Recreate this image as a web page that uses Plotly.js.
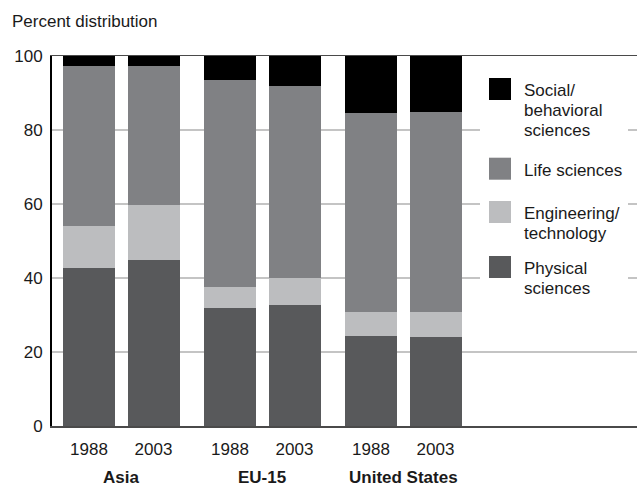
<!DOCTYPE html>
<html>
<head>
<meta charset="utf-8">
<script src="https://cdn.plot.ly/plotly-3.0.1.min.js"></script>
<style>html,body{margin:0;padding:0;background:#fff;}#chart{width:637px;height:486px;}</style>
</head>
<body>
<div id="chart"></div>
<script>
// ---- data ----
const regions = ['Asia', 'EU-15', 'United States'];
const years = ['1988', '2003'];
const seriesNames = ['Physical sciences', 'Engineering/technology', 'Life sciences', 'Social/behavioral sciences'];
const legendLabels = ['Physical<br>sciences', 'Engineering/<br>technology', 'Life sciences', 'Social/<br>behavioral<br>sciences'];
// order: Asia 1988, Asia 2003, EU-15 1988, EU-15 2003, US 1988, US 2003
const physical    = [42.6, 44.8, 31.8, 32.6, 24.3, 24.0];
const engineering = [11.4, 14.8, 5.7, 7.3, 6.5, 6.8];
const life        = [43.4, 37.8, 56.1, 52.1, 53.7, 54.2];
const social      = [2.6, 2.6, 6.4, 8.0, 15.5, 15.0];
const yTicks = [0, 20, 40, 60, 80, 100];

// ---- layout constants ----
const W = 637, H = 486;
const M = {l: 52, r: 0, t: 56, b: 60};
const X0 = 89, GROUP_STEP = 141, YEAR_STEP = 64.5, BAR_W = 52;
const colors = ['#58595b', '#bcbdbf', '#808184', '#000000'];
const FONT = 'Liberation Sans, Arial, sans-serif';
const TXT = '#1a1a1a';

const xpos = [], xlab = [];
regions.forEach((r, gi) => years.forEach((y, yi) => {
  xpos.push(X0 + gi * GROUP_STEP + yi * YEAR_STEP);
  xlab.push(y);
}));

const seriesVals = [physical, engineering, life, social];
const traces = seriesVals.map((vals, i) => ({
  type: 'bar', name: seriesNames[i], x: xpos, y: vals, width: BAR_W,
  marker: {color: colors[i], line: {width: 0}}, showlegend: false, hoverinfo: 'name+y'
}));

const pw = W - M.l - M.r, ph = H - M.t - M.b;
const px2paperX = p => (p - M.l) / pw;
const px2paperY = p => (H - M.b - p) / ph;

const shapes = [];
const annotations = [];
// legend background (white, interrupts gridlines)
shapes.push({type: 'rect', xref: 'paper', yref: 'paper', layer: 'above',
  x0: px2paperX(480), x1: px2paperX(628), y0: px2paperY(302), y1: px2paperY(66),
  fillcolor: '#ffffff', line: {width: 0}});
// custom legend, top item = last series
const legendY = [267, 212, 168.7, 89];
const SW = 22, SWX = 489, TX = 522, LINE_H = 19.8;
for (let i = 0; i < seriesNames.length; i++) {
  const cy = legendY[i];
  shapes.push({type: 'rect', xref: 'paper', yref: 'paper', layer: 'above',
    x0: px2paperX(SWX), x1: px2paperX(SWX + SW), y0: px2paperY(cy + SW / 2), y1: px2paperY(cy - SW / 2),
    fillcolor: colors[i], line: {width: 0}});
  legendLabels[i].split('<br>').forEach((line, li) => {
    annotations.push({xref: 'paper', yref: 'paper', x: px2paperX(TX), y: px2paperY(cy + 1.5 + li * LINE_H),
      xanchor: 'left', yanchor: 'middle', showarrow: false, text: line,
      font: {family: FONT, size: 17, color: TXT}});
  });
}
// group labels
regions.forEach((r, gi) => {
  const c = X0 + gi * GROUP_STEP + YEAR_STEP / 2;
  annotations.push({xref: 'x', yref: 'paper', x: c, y: px2paperY(478), xanchor: 'center', yanchor: 'middle',
    showarrow: false, text: '<b>' + r + '</b>', font: {family: FONT, size: 17, color: TXT}});
});

const layout = {
  width: W, height: H, margin: M, paper_bgcolor: '#fff', plot_bgcolor: '#fff',
  barmode: 'stack', showlegend: false,
  font: {family: FONT, size: 17, color: TXT},
  title: {text: 'Percent distribution', xref: 'container', yref: 'container',
    x: 12 / W, xanchor: 'left', y: 1 - 21 / H, yanchor: 'middle',
    font: {family: FONT, size: 17, color: TXT}},
  xaxis: {range: [M.l, W - M.r], tickvals: xpos, ticktext: xlab, showgrid: false, zeroline: false,
    showline: true, mirror: true, linecolor: '#4a4a4a', linewidth: 1.5,
    ticks: 'outside', ticklen: 7, tickcolor: 'rgba(0,0,0,0)',
    tickfont: {family: FONT, size: 17, color: TXT}, fixedrange: true},
  yaxis: {range: [0, 100], tickvals: yTicks, showgrid: true, gridcolor: '#c4c4c4', gridwidth: 1.5,
    zeroline: false, showline: true, linecolor: '#000', linewidth: 2,
    ticks: 'outside', ticklen: 4, tickcolor: 'rgba(0,0,0,0)',
    tickfont: {family: FONT, size: 17, color: TXT}, fixedrange: true},
  shapes: shapes, annotations: annotations
};

Plotly.newPlot('chart', traces, layout, {displayModeBar: false, staticPlot: true});
</script>
</body>
</html>
